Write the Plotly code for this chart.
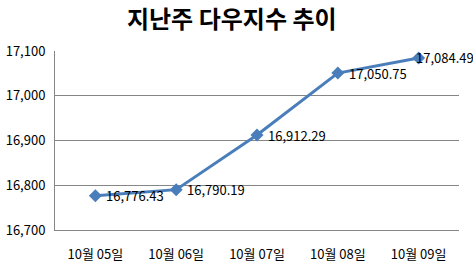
import plotly.graph_objects as go

categories = ["10월 05일", "10월 06일", "10월 07일", "10월 08일", "10월 09일"]
values = [16776.43, 16790.19, 16912.29, 17050.75, 17084.49]
labels = ["16,776.43", "16,790.19", "16,912.29", "17,050.75", "17,084.49"]
y_ticks = [16700, 16800, 16900, 17000, 17100]
y_tick_text = ["16,700", "16,800", "16,900", "17,000", "17,100"]

font = "Noto Sans CJK KR, Malgun Gothic, sans-serif"

fig = go.Figure()
fig.add_trace(go.Scatter(
    x=categories, y=values, mode="lines+markers",
    line=dict(color="#4A7EBB", width=3),
    marker=dict(symbol="diamond", size=10, color="#4A7EBB"),
    cliponaxis=False,
))
n = len(categories)
for i, (c, v, t) in enumerate(zip(categories, values, labels)):
    last = i == n - 1
    fig.add_annotation(
        x=c, y=v, text=t, showarrow=False,
        xanchor="left", yanchor="middle",
        xshift=-5 if last else 9,
        font=dict(size=13, color="black", family=font),
    )
fig.update_layout(
    width=473, height=262,
    margin=dict(l=55, r=14, t=51, b=32, autoexpand=False),
    paper_bgcolor="white", plot_bgcolor="white",
    showlegend=False,
    font=dict(family=font, color="black", size=13),
    title=dict(text="<b>지난주 다우지수 추이</b>", x=0.49, xanchor="center",
               y=0.925, yanchor="middle", font=dict(size=24, family=font, color="black")),
)
fig.update_xaxes(
    type="category", range=[-0.5, 4.5], showgrid=False,
    showline=True, linecolor="#868686", linewidth=1, automargin=False,
    ticks="", ticklabelstandoff=12, tickfont=dict(size=13),
)
fig.update_yaxes(
    range=[16700, 17100], tickvals=y_ticks, ticktext=y_tick_text,
    showgrid=True, gridcolor="#868686", gridwidth=1, automargin=False,
    showline=True, linecolor="#868686", linewidth=1,
    ticks="", ticklabelstandoff=6, tickfont=dict(size=13),
    zeroline=False,
)
fig.write_html("out.html")
